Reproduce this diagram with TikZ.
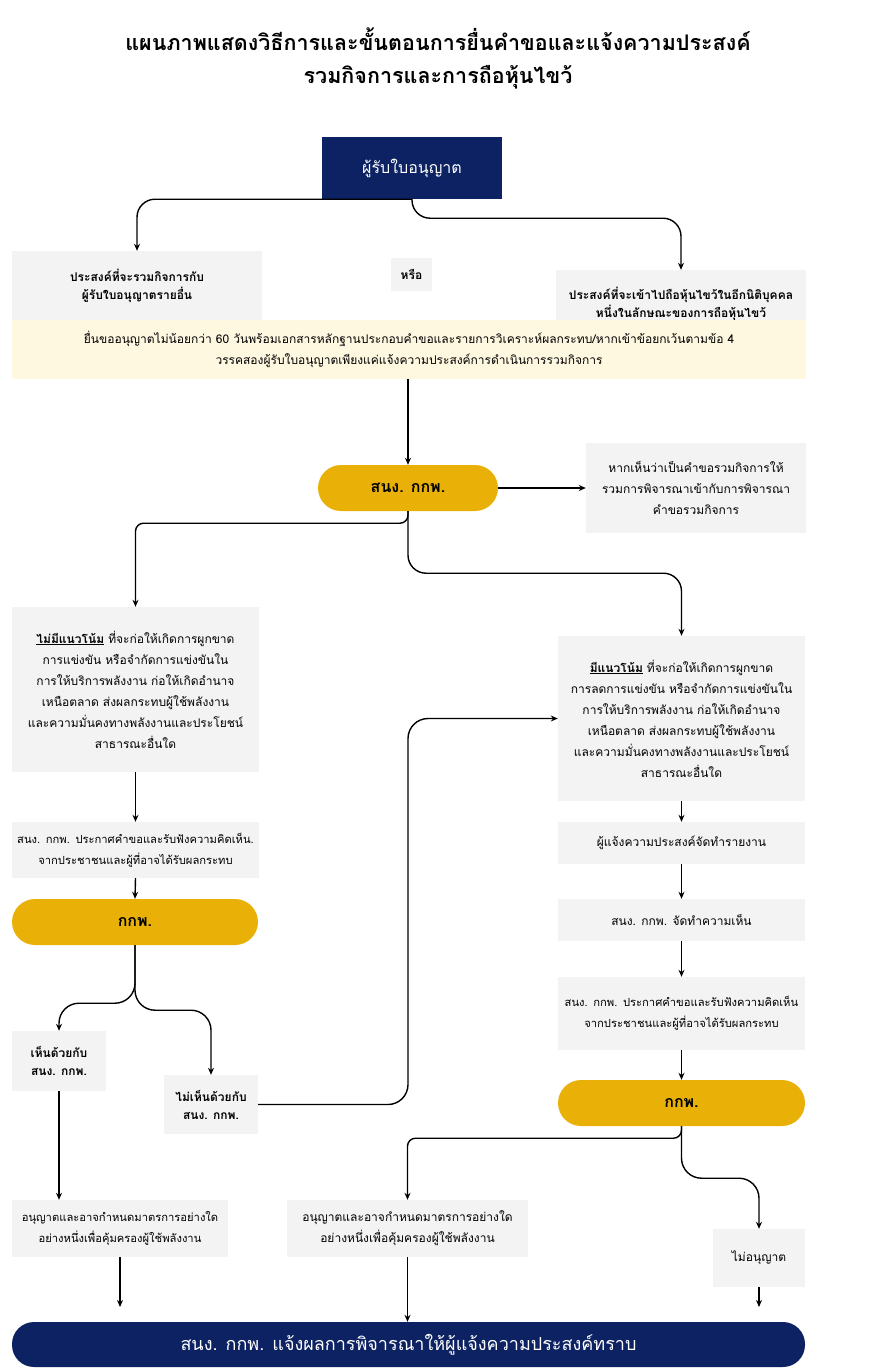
\documentclass[tikz,border=0pt]{standalone}
\usepackage{fontspec}
\newfontfamily\thaifont[Script=Thai]{Loma}
\usetikzlibrary{arrows.meta}

\definecolor{navy}{HTML}{0D2262}
\definecolor{gold}{HTML}{E9B107}
\definecolor{boxgray}{HTML}{F3F3F3}
\definecolor{cream}{HTML}{FFF8E1}

\begin{document}
\begin{tikzpicture}[
  x=1pt, y=-1pt,
  >={Stealth[length=7pt,width=6pt]},
  every node/.style={
    inner sep=0pt, align=center,
    font=\thaifont\fontsize{12}{21}\selectfont},
  box/.style={fill=boxgray},
  tight/.style={font=\thaifont\fontsize{11.2}{21}\selectfont},
  head/.style={fill=navy,text=white,font=\thaifont\fontsize{16}{20}\selectfont},
  pill/.style={fill=gold,rounded corners=23pt,
    font=\thaifont\bfseries\fontsize{16}{20}\selectfont},
  strong/.style={font=\thaifont\bfseries\fontsize{12}{18}\selectfont},
  link/.style={->,line width=1.4pt,rounded corners=#1},
  link/.default=18pt]

  \useasboundingbox (0,0) rectangle (877,1369);

  \node[font=\thaifont\bfseries\fontsize{21.5}{33}\selectfont] (title) at (438,58)
    {แผนภาพแสดงวิธีการและขั้นตอนการยื่นคำขอและแจ้งความประสงค์\\รวมกิจการและการถือหุ้นไขว้};

  % top part
  \node[head, minimum width=180, minimum height=62] (lic) at (412,168) {ผู้รับใบอนุญาต};
  \node[box, strong, minimum width=250, minimum height=69] (merge) at (137,285.5)
    {ประสงค์ที่จะรวมกิจการกับ\\ผู้รับใบอนุญาตรายอื่น};
  \node[box, strong, minimum width=41, minimum height=33] (orr) at (411.5,274.5) {หรือ};
  \node[box, strong, minimum width=250, minimum height=68] (cross) at (681,304)
    {ประสงค์ที่จะเข้าไปถือหุ้นไขว้ในอีกนิติบุคคล\\หนึ่งในลักษณะของการถือหุ้นไขว้};
  \node[fill=cream, minimum width=794, minimum height=59] (band) at (409,349.5)
    {ยื่นขออนุญาตไม่น้อยกว่า 60 วันพร้อมเอกสารหลักฐานประกอบคำขอและรายการวิเคราะห์ผลกระทบ/หากเข้าข้อยกเว้นตามข้อ 4\\
     วรรคสองผู้รับใบอนุญาตเพียงแค่แจ้งความประสงค์การดำเนินการรวมกิจการ};

  \node[pill, minimum width=180, minimum height=46] (sec) at (408,488) {สนง. กกพ.};
  \node[box, minimum width=220, minimum height=90] (combine) at (696,488)
    {หากเห็นว่าเป็นคำขอรวมกิจการให้\\รวมการพิจารณาเข้ากับการพิจารณา\\คำขอรวมกิจการ};

  % left column
  \node[box, minimum width=247, minimum height=165] (nolean) at (135.5,689.5)
    {\underline{\textbf{ไม่มีแนวโน้ม}} ที่จะก่อให้เกิดการผูกขาด\\การแข่งขัน หรือจำกัดการแข่งขันใน\\
     การให้บริการพลังงาน ก่อให้เกิดอำนาจ\\เหนือตลาด ส่งผลกระทบผู้ใช้พลังงาน\\
     และความมั่นคงทางพลังงานและประโยชน์\\สาธารณะอื่นใด};
  \node[box, tight, text width=247, minimum height=56] (ann1) at (135.5,850)
    {สนง. กกพ. ประกาศคำขอและรับฟังความคิดเห็น.\\จากประชาชนและผู้ที่อาจได้รับผลกระทบ};
  \node[pill, minimum width=246, minimum height=46] (kkp1) at (135,922) {กกพ.};
  \node[box, strong, minimum width=94, minimum height=60] (agree) at (59,1061)
    {เห็นด้วยกับ\\สนง. กกพ.};
  \node[box, strong, minimum width=94, minimum height=59] (disagree) at (211,1104.5)
    {ไม่เห็นด้วยกับ\\สนง. กกพ.};
  \node[box, tight, text width=216, minimum height=57] (permit1) at (120,1228.5)
    {อนุญาตและอาจกำหนดมาตรการอย่างใด\\อย่างหนึ่งเพื่อคุ้มครองผู้ใช้พลังงาน};

  % right column
  \node[box, minimum width=247, minimum height=165] (lean) at (681.5,718.5)
    {\underline{\textbf{มีแนวโน้ม}} ที่จะก่อให้เกิดการผูกขาด\\การลดการแข่งขัน หรือจำกัดการแข่งขันใน\\
     การให้บริการพลังงาน ก่อให้เกิดอำนาจ\\เหนือตลาด ส่งผลกระทบผู้ใช้พลังงาน\\
     และความมั่นคงทางพลังงานและประโยชน์\\สาธารณะอื่นใด};
  \node[box, minimum width=247, minimum height=42] (report) at (681.5,843)
    {ผู้แจ้งความประสงค์จัดทำรายงาน};
  \node[box, minimum width=247, minimum height=42] (opinion) at (681.5,920)
    {สนง. กกพ. จัดทำความเห็น};
  \node[box, tight, text width=247, minimum height=73] (ann2) at (681.5,1013.5)
    {สนง. กกพ. ประกาศคำขอและรับฟังความคิดเห็น\\จากประชาชนและผู้ที่อาจได้รับผลกระทบ};
  \node[pill, minimum width=247, minimum height=46] (kkp2) at (681.5,1103) {กกพ.};
  \node[box, minimum width=241, minimum height=57] (permit2) at (407.5,1228.5)
    {อนุญาตและอาจกำหนดมาตรการอย่างใด\\อย่างหนึ่งเพื่อคุ้มครองผู้ใช้พลังงาน};
  \node[box, minimum width=92, minimum height=58] (deny) at (759,1258) {ไม่อนุญาต};

  \node[fill=navy, text=white, rounded corners=22pt, minimum width=793, minimum height=45,
    font=\thaifont\fontsize{18}{22}\selectfont] (notify) at (408.5,1344.5)
    {สนง. กกพ. แจ้งผลการพิจารณาให้ผู้แจ้งความประสงค์ทราบ};

  \coordinate (turn) at (408,900);
  \coordinate (end1) at (120,1307);
  \coordinate (end2) at (759,1307);

  \draw[link] (lic.south) -| (merge.north);
  \draw[link] (lic.south) -- ++(0,19) -| (cross.north);
  \draw[link] (sec.north |- band.south) -- (sec.north);
  \draw[link] (sec.east) -- (combine.west);
  \draw[link=8pt] (sec.south) -- ++(0,12) -| (nolean.north);
  \draw[link] (sec.south) -- ++(0,62) -| (lean.north);

  \draw[link] (nolean.south) -- (ann1.north);
  \draw[link] (ann1.south) -- (kkp1.north);
  \draw[link=20pt] (kkp1.south) -- ++(0,58) -| (agree.north);
  \draw[link=20pt] (kkp1.south) -- ++(0,65) -| (disagree.north);
  \draw[link=20pt] (disagree.east) -| (turn) |- (lean.west);
  \draw[link] (agree.south) -- (agree.south |- permit1.north);
  \draw[link] (permit1.south) -- (end1);

  \draw[link] (lean.south) -- (report.north);
  \draw[link] (report.south) -- (opinion.north);
  \draw[link] (opinion.south) -- (ann2.north);
  \draw[link] (ann2.south) -- (kkp2.north);
  \draw[link=8pt] (kkp2.south) -- ++(0,12) -| (permit2.north);
  \draw[link=20pt] (kkp2.south) -- ++(0,52) -| (deny.north);
  \draw[link] (permit2.south) -- (permit2.south |- notify.north);
  \draw[link] (deny.south) -- (end2);
\end{tikzpicture}
\end{document}
